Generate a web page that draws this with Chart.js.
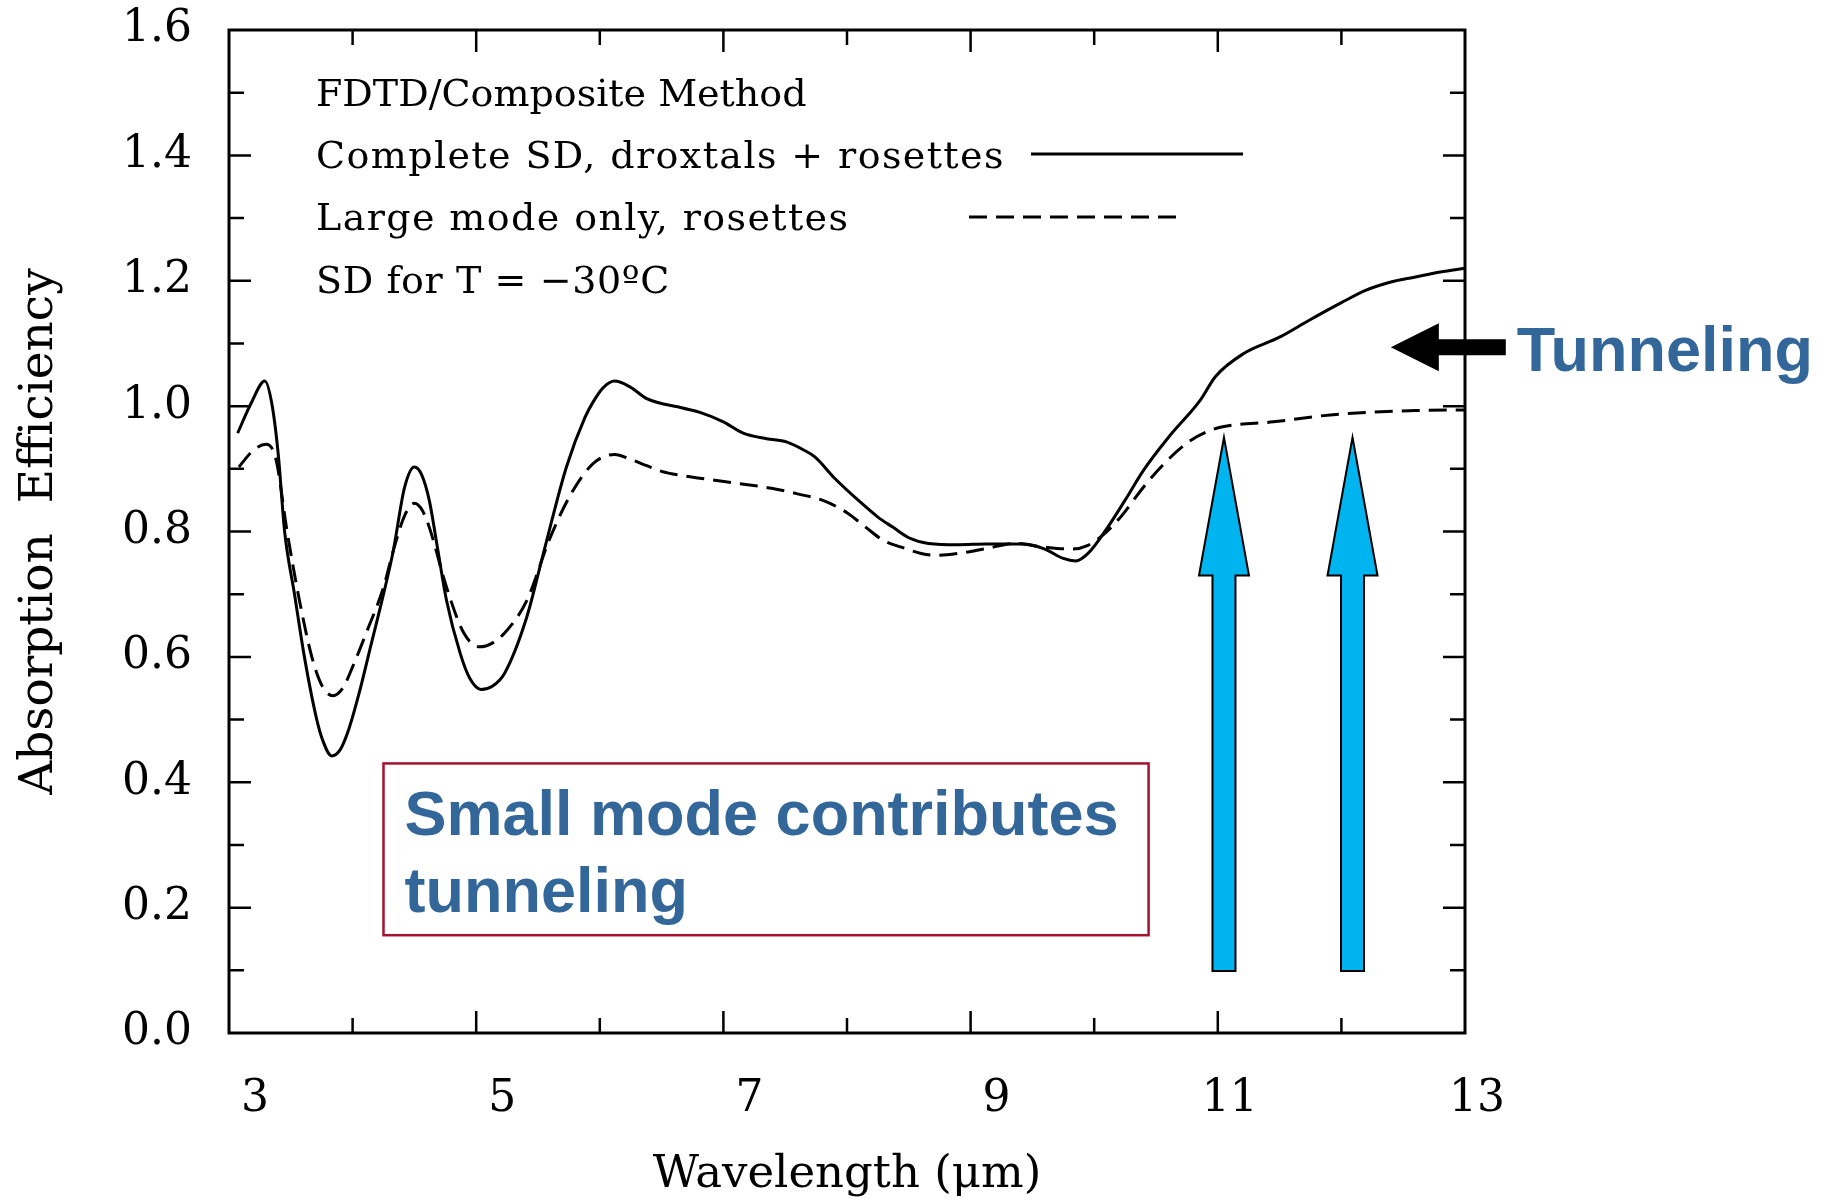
<!DOCTYPE html>
<html>
<head>
<meta charset="utf-8">
<script src="https://cdn.jsdelivr.net/npm/chart.js@4.4.0/dist/chart.umd.min.js"></script>
<style>
  html, body { margin: 0; padding: 0; background: #ffffff; }
  #wrap { width: 1823px; height: 1202px; position: relative; }
</style>
</head>
<body>
<div id="wrap"><canvas id="c" width="1823" height="1202"></canvas></div>
<script>
// Absorption efficiency vs wavelength, FDTD / composite method.

// Complete size distribution (droxtals + rosettes)
const completeWavelength = [3.07, 3.18, 3.29, 3.35, 3.40, 3.45, 3.53, 3.61, 3.71, 3.76, 3.83, 3.90, 3.97, 4.05, 4.15, 4.25, 4.33, 4.42, 4.50, 4.56, 4.62, 4.69, 4.76, 4.87, 4.95, 5.04, 5.13, 5.23, 5.41, 5.55, 5.73, 5.88, 5.95, 6.03, 6.12, 6.25, 6.38, 6.67, 6.81, 7.00, 7.16, 7.35, 7.51, 7.65, 7.74, 7.90, 8.09, 8.25, 8.37, 8.50, 8.66, 8.90, 9.13, 9.42, 9.60, 9.75, 9.85, 9.95, 10.11, 10.25, 10.40, 10.60, 10.86, 10.98, 11.21, 11.50, 11.74, 12.00, 12.20, 12.40, 12.60, 12.80, 13.00];
const completeEfficiency = [0.957, 1.005, 1.040, 1.000, 0.920, 0.800, 0.700, 0.600, 0.500, 0.466, 0.442, 0.452, 0.485, 0.540, 0.620, 0.700, 0.770, 0.870, 0.903, 0.890, 0.850, 0.770, 0.690, 0.606, 0.565, 0.548, 0.553, 0.574, 0.664, 0.770, 0.903, 0.982, 1.008, 1.030, 1.040, 1.030, 1.012, 0.997, 0.990, 0.975, 0.957, 0.948, 0.943, 0.930, 0.919, 0.885, 0.850, 0.823, 0.807, 0.790, 0.781, 0.779, 0.780, 0.780, 0.772, 0.757, 0.753, 0.765, 0.807, 0.850, 0.898, 0.950, 1.010, 1.047, 1.084, 1.110, 1.137, 1.165, 1.185, 1.198, 1.206, 1.214, 1.220];

// Large mode only (rosettes)
const largeWavelength = [3.08, 3.20, 3.30, 3.38, 3.47, 3.57, 3.67, 3.75, 3.84, 3.92, 4.00, 4.11, 4.25, 4.33, 4.42, 4.50, 4.56, 4.62, 4.76, 4.90, 5.03, 5.13, 5.23, 5.41, 5.59, 5.77, 5.95, 6.12, 6.25, 6.38, 6.50, 6.67, 6.81, 7.10, 7.39, 7.60, 7.80, 8.00, 8.15, 8.30, 8.44, 8.60, 8.72, 8.90, 9.13, 9.36, 9.60, 9.82, 9.95, 10.05, 10.20, 10.40, 10.55, 10.75, 10.90, 11.04, 11.45, 11.91, 12.20, 12.60, 13.00];
const largeEfficiency = [0.903, 0.930, 0.939, 0.915, 0.800, 0.690, 0.600, 0.555, 0.538, 0.550, 0.584, 0.638, 0.711, 0.770, 0.825, 0.845, 0.835, 0.807, 0.711, 0.638, 0.616, 0.622, 0.638, 0.690, 0.786, 0.861, 0.909, 0.923, 0.915, 0.905, 0.896, 0.889, 0.885, 0.877, 0.869, 0.860, 0.850, 0.830, 0.807, 0.785, 0.775, 0.765, 0.762, 0.765, 0.773, 0.781, 0.775, 0.772, 0.778, 0.791, 0.820, 0.871, 0.905, 0.941, 0.958, 0.967, 0.975, 0.986, 0.990, 0.993, 0.994];

// Axis ticks
const xTickLabels = [3, 5, 7, 9, 11, 13];
const xMinorTicks = [4, 5, 6, 7, 8, 9, 10, 11, 12];
const yTickLabels = [0.0, 0.2, 0.4, 0.6, 0.8, 1.0, 1.2, 1.4, 1.6];
const yMinorTicks = [0.1, 0.2, 0.3, 0.4, 0.5, 0.6, 0.7, 0.8, 0.9, 1.0, 1.1, 1.2, 1.3, 1.4, 1.5];

// Legend and notes
const legendHeader = 'FDTD/Composite Method';
const legendFooter = 'SD for T = \u221230\u00baC';
const seriesLabels = ['Complete SD, droxtals + rosettes', 'Large mode only, rosettes'];
const boxNoteLines = ['Small mode contributes', 'tunneling'];
const sideNote = 'Tunneling';

// Annotation anchors in axis units
const noteBox = { x0: 4.25, x1: 10.44, y0: 0.156, y1: 0.43 };
const upArrowsAt = [11.05, 12.09];
const upArrowSpan = { from: 0.099, to: 0.95 };
const sideArrow = { tipX: 12.40, tailX: 13.33, y: 1.094 };

const SERIF = '"DejaVu Serif", "Liberation Serif", serif';
const SANS = '"Liberation Sans", Arial, sans-serif';
const NOTE_BLUE = '#336699';

const toPoints = (xs, ys) => xs.map((v, i) => ({ x: v, y: ys[i] }));

const decorations = {
  id: 'decorations',
  afterDraw(chart) {
    const { ctx, chartArea: a, scales: { x, y } } = chart;
    ctx.save();

    // Inward tick marks on all four sides
    ctx.strokeStyle = '#000';
    ctx.lineWidth = 2.5;
    ctx.lineCap = 'butt';
    ctx.beginPath();
    xMinorTicks.forEach(v => {
      const px = x.getPixelForValue(v);
      const len = xTickLabels.includes(v) ? 22 : 15;
      ctx.moveTo(px, a.bottom); ctx.lineTo(px, a.bottom - len);
      ctx.moveTo(px, a.top); ctx.lineTo(px, a.top + len);
    });
    yMinorTicks.forEach(v => {
      const py = y.getPixelForValue(v);
      const major = yTickLabels.some(t => Math.abs(t - v) < 1e-6);
      const len = major ? 22 : 15;
      ctx.moveTo(a.left, py); ctx.lineTo(a.left + len, py);
      ctx.moveTo(a.right, py); ctx.lineTo(a.right - len, py);
    });
    ctx.stroke();

    // Frame
    ctx.lineWidth = 3;
    ctx.strokeRect(a.left, a.top, a.right - a.left, a.bottom - a.top);

    // Legend block
    const ds = chart.data.datasets;
    const lx = a.left + 87;
    const baselines = [a.top + 76, a.top + 138, a.top + 200, a.top + 263];
    ctx.fillStyle = '#000';
    ctx.font = '38px ' + SERIF;
    ctx.textAlign = 'left';
    ctx.textBaseline = 'alphabetic';
    ctx.fillText(legendHeader, lx, baselines[0]);
    ctx.letterSpacing = '1.4px';
    ctx.fillText(ds[0].label, lx, baselines[1]);
    ctx.fillText(ds[1].label, lx, baselines[2]);
    ctx.letterSpacing = '0.6px';
    ctx.fillText(legendFooter, lx, baselines[3]);
    ctx.letterSpacing = '0px';
    const samples = [
      { x0: a.left + 802, x1: a.left + 1014, y: baselines[1] - 14, ds: ds[0] },
      { x0: a.left + 740, x1: a.left + 955, y: baselines[2] - 13, ds: ds[1] }
    ];
    samples.forEach(s => {
      ctx.beginPath();
      ctx.lineWidth = s.ds.borderWidth;
      ctx.setLineDash(s.ds.borderDash || []);
      ctx.moveTo(s.x0, s.y); ctx.lineTo(s.x1, s.y);
      ctx.stroke();
    });
    ctx.setLineDash([]);

    // Blue upward arrows
    upArrowsAt.forEach(v => {
      const cx = x.getPixelForValue(v);
      const tip = y.getPixelForValue(upArrowSpan.to);
      const base = y.getPixelForValue(upArrowSpan.from);
      const headBase = tip + 138;
      const sw = 11.5, hw = 25;
      ctx.beginPath();
      ctx.moveTo(cx, tip);
      ctx.lineTo(cx + hw, headBase);
      ctx.lineTo(cx + sw, headBase);
      ctx.lineTo(cx + sw, base);
      ctx.lineTo(cx - sw, base);
      ctx.lineTo(cx - sw, headBase);
      ctx.lineTo(cx - hw, headBase);
      ctx.closePath();
      ctx.fillStyle = '#00B4F0';
      ctx.fill();
      ctx.lineWidth = 2;
      ctx.strokeStyle = '#000';
      ctx.lineJoin = 'miter';
      ctx.stroke();
    });

    // Boxed note
    const bx0 = x.getPixelForValue(noteBox.x0), bx1 = x.getPixelForValue(noteBox.x1);
    const by0 = y.getPixelForValue(noteBox.y1), by1 = y.getPixelForValue(noteBox.y0);
    ctx.fillStyle = '#ffffff';
    ctx.fillRect(bx0, by0, bx1 - bx0, by1 - by0);
    ctx.strokeStyle = '#A8102E';
    ctx.lineWidth = 2.5;
    ctx.strokeRect(bx0, by0, bx1 - bx0, by1 - by0);
    ctx.fillStyle = NOTE_BLUE;
    ctx.font = 'bold 63px ' + SANS;
    ctx.fillText(boxNoteLines[0], bx0 + 21, by0 + 72);
    ctx.fillText(boxNoteLines[1], bx0 + 21, by0 + 149);

    // Side arrow and label
    const tx = x.getPixelForValue(sideArrow.tipX);
    const ex = x.getPixelForValue(sideArrow.tailX);
    const ay = y.getPixelForValue(sideArrow.y);
    ctx.beginPath();
    ctx.moveTo(tx, ay);
    ctx.lineTo(tx + 48, ay - 24);
    ctx.lineTo(tx + 48, ay - 8);
    ctx.lineTo(ex, ay - 8);
    ctx.lineTo(ex, ay + 8);
    ctx.lineTo(tx + 48, ay + 8);
    ctx.lineTo(tx + 48, ay + 24);
    ctx.closePath();
    ctx.fillStyle = '#000';
    ctx.fill();
    ctx.fillStyle = NOTE_BLUE;
    ctx.font = 'bold 63px ' + SANS;
    ctx.fillText(sideNote, ex + 11, ay + 24);

    ctx.restore();
  }
};

new Chart(document.getElementById('c'), {
  type: 'line',
  data: {
    datasets: [
      {
        label: seriesLabels[0],
        data: toPoints(completeWavelength, completeEfficiency),
        borderColor: '#000',
        borderWidth: 3,
        pointRadius: 0,
        cubicInterpolationMode: 'monotone',
        fill: false
      },
      {
        label: seriesLabels[1],
        data: toPoints(largeWavelength, largeEfficiency),
        borderColor: '#000',
        borderWidth: 3,
        borderDash: [18, 9],
        pointRadius: 0,
        cubicInterpolationMode: 'monotone',
        fill: false
      }
    ]
  },
  options: {
    responsive: false,
    animation: false,
    devicePixelRatio: 1,
    layout: { padding: { top: 30, right: 358, bottom: 0, left: 0 } },
    plugins: { legend: { display: false }, tooltip: { enabled: false } },
    scales: {
      x: {
        type: 'linear',
        min: 3,
        max: 13,
        grid: { display: false, drawTicks: false },
        border: { display: false },
        afterBuildTicks: s => { s.ticks = xTickLabels.map(v => ({ value: v })); },
        afterFit: s => { s.height = 169; s.paddingLeft = 0; s.paddingRight = 0; },
        ticks: {
          color: '#000',
          font: { family: SERIF, size: 44 },
          padding: 40,
          align: 'end',
          labelOffset: 40,
          maxRotation: 0,
          autoSkip: false,
          callback: v => String(v)
        },
        title: {
          display: true,
          text: 'Wavelength (\u03bcm)',
          color: '#000',
          font: { family: SERIF, size: 45 },
          padding: { top: 0, bottom: 0 }
        }
      },
      y: {
        type: 'linear',
        min: 0,
        max: 1.6,
        grid: { display: false, drawTicks: false },
        border: { display: false },
        afterBuildTicks: s => { s.ticks = yTickLabels.map(v => ({ value: v })); },
        afterFit: s => { s.width = 229; s.paddingTop = 0; s.paddingBottom = 0; },
        ticks: {
          color: '#000',
          font: { family: SERIF, size: 44 },
          padding: 37,
          autoSkip: false,
          callback: v => Number(v).toFixed(1)
        },
        title: {
          display: true,
          text: 'Absorption  Efficiency',
          color: '#000',
          font: { family: SERIF, size: 47 },
          padding: { top: 12, bottom: 0 }
        }
      }
    }
  },
  plugins: [decorations]
});
</script>
</body>
</html>
